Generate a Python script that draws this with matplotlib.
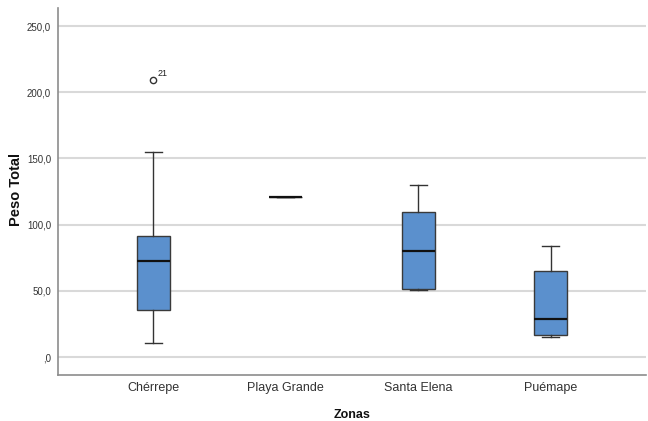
import matplotlib
matplotlib.use("Agg")
import matplotlib.pyplot as plt

plt.rcParams['font.family'] = ['Liberation Sans', 'DejaVu Sans']

zones = ["Chérrepe", "Playa Grande", "Santa Elena", "Puémape"]
whislo = [11.0, 121.0, 51.0, 15.3]
q1 = [35.5, 121.0, 51.4, 16.6]
med = [72.7, 121.0, 80.0, 28.7]
q3 = [91.4, 121.0, 109.7, 65.0]
whishi = [155.0, 121.0, 130.0, 84.0]
outliers = [[209.0], [], [], []]
outlier_labels = [["21"], [], [], []]
yticks = [0, 50, 100, 150, 200, 250]
ytick_labels = [",0", "50,0", "100,0", "150,0", "200,0", "250,0"]

W, H = 648, 421
fig = plt.figure(figsize=(W / 100, H / 100), dpi=100)
ax = fig.add_axes([0.0895, 0.109, 0.9075, 0.872])

stats = []
for i, z in enumerate(zones):
    stats.append(dict(label=z, whislo=whislo[i], q1=q1[i], med=med[i],
                      q3=q3[i], whishi=whishi[i], fliers=outliers[i]))

positions = list(range(len(zones)))
ax.bxp(stats, positions=positions, widths=0.25, patch_artist=True,
       showfliers=True,
       boxprops=dict(facecolor="#5b90cd", edgecolor="#3a3a3a", linewidth=1.0),
       medianprops=dict(color="#111111", linewidth=1.6),
       whiskerprops=dict(color="#333333", linewidth=1.0),
       capprops=dict(color="#333333", linewidth=1.0),
       capwidths=0.13,
       flierprops=dict(marker="o", markersize=4.5, markerfacecolor="white",
                       markeredgecolor="#333333", markeredgewidth=1.0))

for i, (vals, labs) in enumerate(zip(outliers, outlier_labels)):
    for v, l in zip(vals, labs):
        ax.annotate(l, (positions[i], v), xytext=(3, 3), textcoords="offset points",
                    fontsize=6.5, color="#222222")

ax.set_xlim(-0.72, 3.72)
ax.set_ylim(-13.6, 263.6)
ax.set_yticks(yticks)
ax.set_yticklabels(ytick_labels, fontsize=7, color="#333333")
ax.set_xticks(positions)
ax.set_xticklabels(zones, fontsize=9, color="#333333")
ax.tick_params(axis='y', length=0, pad=5)
ax.tick_params(axis='x', length=0, pad=5)

ax.yaxis.grid(True, color="#d9d9d9", linewidth=1.5)
ax.set_axisbelow(True)
for s in ["top", "right"]:
    ax.spines[s].set_visible(False)
for s in ["left", "bottom"]:
    ax.spines[s].set_color("#8c8c8c")
    ax.spines[s].set_linewidth(1.2)

fig.text(16 / W, 1 - 190 / H, "Peso Total", rotation=90, fontsize=10.5,
         fontweight="bold", ha="center", va="center", color="#111111")
fig.text(352 / W, 1 - 415 / H, "Zonas", fontsize=9, fontweight="bold",
         ha="center", va="center", color="#111111")

fig.savefig("out.png", dpi=100)
